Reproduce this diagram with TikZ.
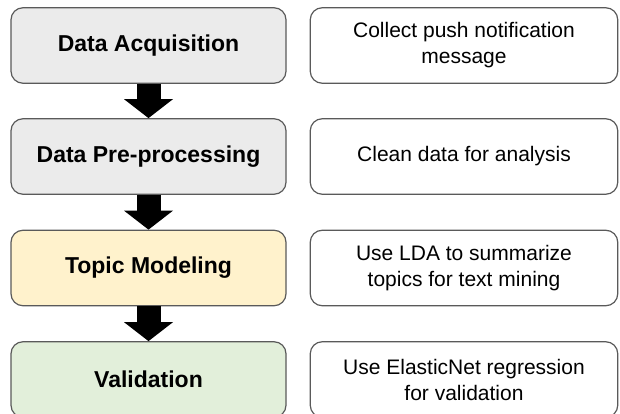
\documentclass[tikz,border=0pt]{standalone}
\usepackage{fontspec}
\setmainfont{Liberation Sans}
\usetikzlibrary{arrows.meta,positioning}

\definecolor{boxgray}{HTML}{EBEBEB}
\definecolor{boxyellow}{HTML}{FFF2CC}
\definecolor{boxgreen}{HTML}{E2EFDA}
\definecolor{edgegray}{HTML}{5A5A5A}

\begin{document}
\begin{tikzpicture}[
  x=1pt, y=-1pt,
  stage/.style={draw=edgegray, line width=1.2pt, rounded corners=12pt,
    minimum width=275pt, minimum height=75.5pt, inner sep=0pt,
    font=\fontsize{23}{27}\selectfont\bfseries},
  note/.style={draw=edgegray, line width=1.2pt, rounded corners=12pt, fill=white,
    minimum width=307.5pt, minimum height=75.5pt, inner sep=0pt, align=center,
    font=\fontsize{21}{26}\selectfont},
  flow/.style={line width=24pt, -{Triangle[width=48pt,length=19pt]}}
]
  \clip (0,0) rectangle (620,414);
  \fill[white] (0,0) rectangle (620,414);

  \node[stage, fill=boxgray]   (acq)   at (148.5,45.5)  {Data Acquisition};
  \node[stage, fill=boxgray]   (prep)  at (148.5,156.5) {Data Pre-processing};
  \node[stage, fill=boxyellow] (topic) at (148.5,268)   {Topic Modeling};
  \node[stage, fill=boxgreen]  (valid) at (148.5,379.5) {Validation};

  \node[note] (acqn)   at (464,45.5)  {Collect push notification\\message};
  \node[note] (prepn)  at (464,156.5) {Clean data for analysis};
  \node[note] (topicn) at (464,268)   {Use LDA to summarize\\topics for text mining};
  \node[note] (validn) at (464,379.5) {Use ElasticNet regression\\for validation};

  \draw[flow] (acq.south)   -- (prep.north);
  \draw[flow] (prep.south)  -- (topic.north);
  \draw[flow] (topic.south) -- (valid.north);
\end{tikzpicture}
\end{document}
